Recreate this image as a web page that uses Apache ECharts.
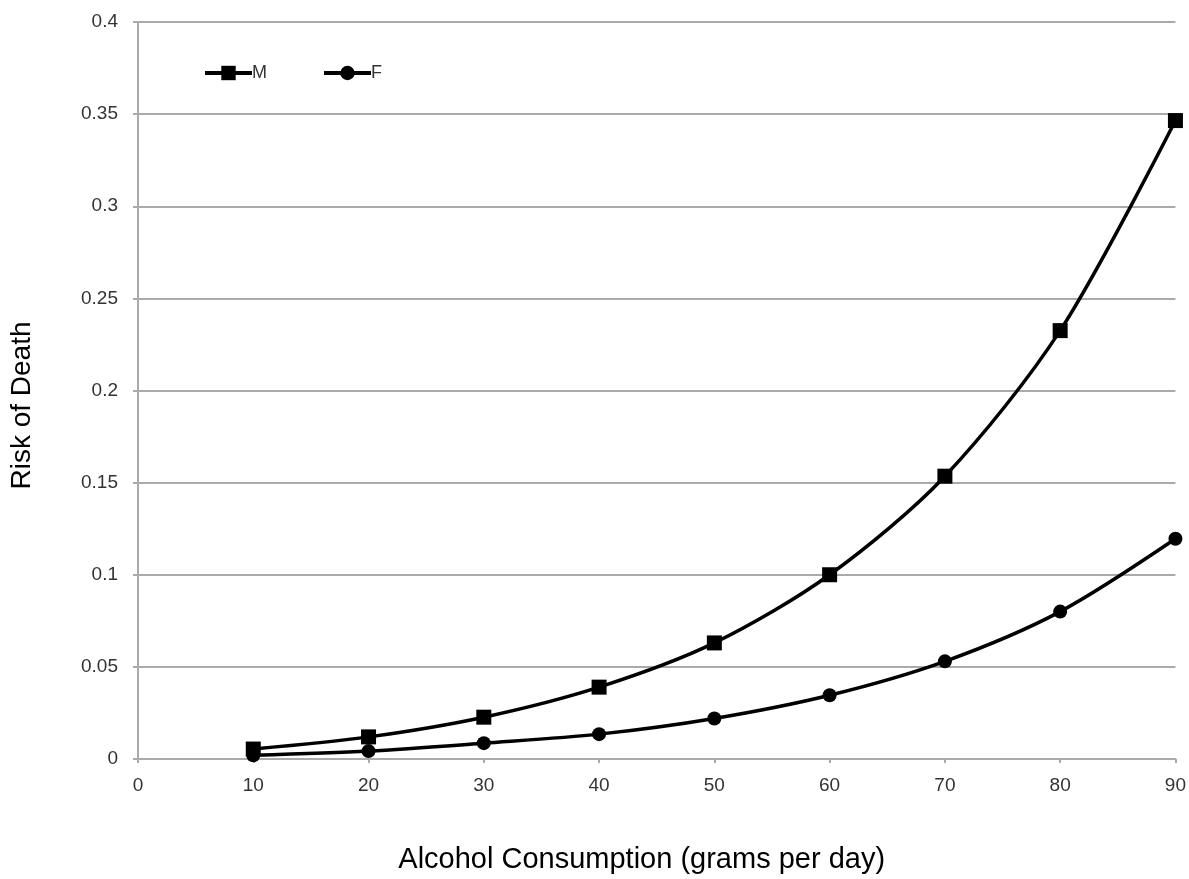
<!DOCTYPE html>
<html><head><meta charset="utf-8">
<script src="https://cdn.jsdelivr.net/npm/echarts@6/dist/echarts.min.js"></script>
<style>html,body{margin:0;padding:0;background:#fff}#c{width:1189px;height:879px}</style>
</head><body><div id="c"></div>
<script>
var xValues = [10, 20, 30, 40, 50, 60, 70, 80, 90];
var maleRisk = [0.0054, 0.012, 0.0227, 0.039, 0.063, 0.100, 0.1535, 0.2325, 0.3465];
var femaleRisk = [0.002, 0.0043, 0.0086, 0.0135, 0.022, 0.0346, 0.053, 0.080, 0.1195];

var chart = echarts.init(document.getElementById('c'));
function pairs(v){ return xValues.map(function(x,i){ return [x, v[i]]; }); }
chart.setOption({
  animation: false,
  backgroundColor: '#fff',
  textStyle: { fontFamily: 'Liberation Sans, Arial, sans-serif' },
  grid: { left: 137, right: 13, top: 22, bottom: 117, containLabel: false },
  legend: {
    left: 198, top: 59, itemGap: 55, itemWidth: 47, itemHeight: 18,
    lineStyle: { width: 4 },
    textStyle: { fontSize: 18, color: '#333', padding: [2, 0, 0, -5] },
    data: ['M', 'F']
  },
  xAxis: {
    type: 'value', min: 0, max: 90, interval: 10,
    name: 'Alcohol Consumption (grams per day)', nameLocation: 'middle', nameGap: 86,
    nameTextStyle: { fontSize: 29, color: '#000', padding: [0, 30, 0, 0] },
    axisLine: { show: true, lineStyle: { color: '#aaa', width: 2 } },
    axisTick: { show: true, length: 4, lineStyle: { color: '#aaa', width: 2 } },
    axisLabel: { fontSize: 19, color: '#333', margin: 17 },
    splitLine: { show: false }
  },
  yAxis: {
    type: 'value', min: 0, max: 0.4, interval: 0.05,
    name: 'Risk of Death', nameLocation: 'middle', nameGap: 102, nameRotate: 90,
    nameTextStyle: { fontSize: 28, color: '#000', padding: [0, 30, 0, 0] },
    axisLine: { show: true, lineStyle: { color: '#aaa', width: 2 } },
    axisTick: { show: true, length: 5, lineStyle: { color: '#aaa', width: 2 } },
    axisLabel: { fontSize: 19, color: '#333', margin: 20 },
    splitLine: { show: true, lineStyle: { color: '#aaa', width: 2 } }
  },
  series: [
    { name: 'M', type: 'line', data: pairs(maleRisk), smooth: 0.3,
      symbol: 'rect', symbolSize: 15,
      lineStyle: { color: '#000', width: 3.5 }, itemStyle: { color: '#000' } },
    { name: 'F', type: 'line', data: pairs(femaleRisk), smooth: 0.3,
      symbol: 'circle', symbolSize: 14,
      lineStyle: { color: '#000', width: 3.5 }, itemStyle: { color: '#000' } }
  ]
});
</script></body></html>
